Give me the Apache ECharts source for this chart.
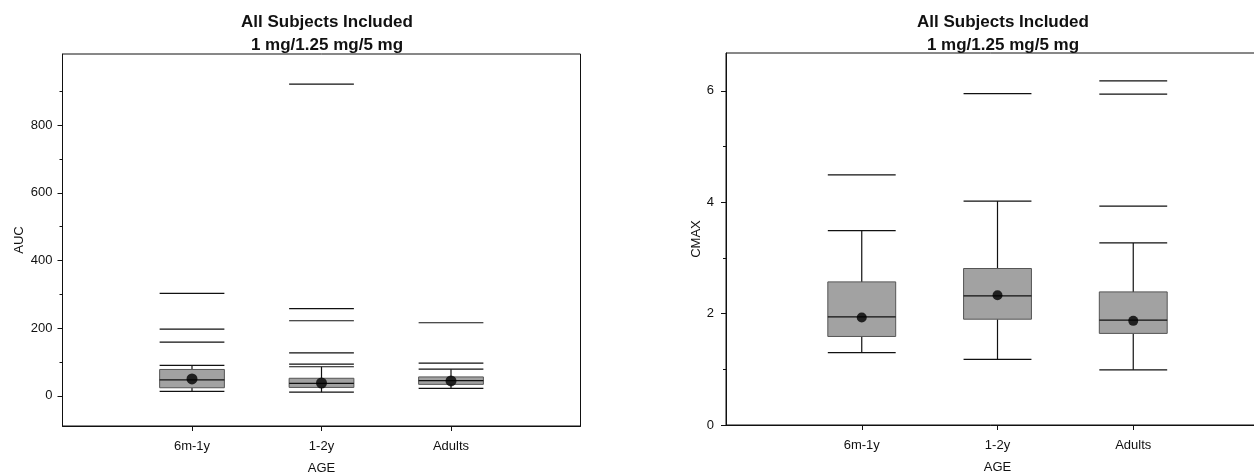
<!DOCTYPE html>
<html>
<head>
<meta charset="utf-8">
<script src="https://cdn.jsdelivr.net/npm/echarts@6/dist/echarts.min.js"></script>
<style>
  html, body { margin: 0; padding: 0; background: #fff; }
  #chart { width: 1254px; height: 472px; }
</style>
</head>
<body>
<div id="chart"></div>
<script>
// Age groups on the x axis
const categories = ['6m-1y', '1-2y', 'Adults'];

// AUC: [min, Q1, median, Q3, max] per age group, plus means and outliers
const aucBoxes = [
  [13, 24, 47, 78, 90],
  [11, 25, 37, 52, 86],
  [22, 34, 45, 56, 79]
];
const aucMeans = [50, 38, 44];
const aucOutliers = [
  [159, 197, 303],
  [94, 127, 222, 258, 921],
  [97, 216]
];
const aucTicks = [0, 200, 400, 600, 800];
const aucMinorTicks = [100, 300, 500, 700, 900];

// CMAX: [min, Q1, median, Q3, max] per age group, plus means and outliers
const cmaxBoxes = [
  [1.30, 1.59, 1.94, 2.57, 3.49],
  [1.18, 1.90, 2.32, 2.81, 4.02],
  [0.99, 1.645, 1.885, 2.39, 3.27]
];
const cmaxMeans = [1.93, 2.33, 1.87];
const cmaxOutliers = [
  [4.49],
  [5.95],
  [3.93, 5.94, 6.18]
];
const cmaxTicks = [0, 2, 4, 6];
const cmaxMinorTicks = [1, 3, 5];

const FONT = '"Liberation Sans", Arial, sans-serif';
const INK = '#111';
const BOX_FILL = '#a2a2a2';

// category i sits at x = i + 1 on a 0..4 scale
const catX = categories.map((_, i) => i + 1);

function halfWidth(api) {
  return (api.coord([2, 0])[0] - api.coord([1, 0])[0]) * 0.25;
}

function renderBox(params, api) {
  const x = api.value(0);
  const hw = halfWidth(api);
  const p = (v) => api.coord([x, v]);
  const cx = p(api.value(1))[0];
  const yMin = p(api.value(1))[1];
  const yQ1 = p(api.value(2))[1];
  const yMed = p(api.value(3))[1];
  const yQ3 = p(api.value(4))[1];
  const yMax = p(api.value(5))[1];
  const line = (x1, y1, x2, y2, w) => ({
    type: 'line',
    shape: { x1, y1, x2, y2 },
    style: { stroke: INK, lineWidth: w || 1.2 }
  });
  return {
    type: 'group',
    children: [
      line(cx, yQ3, cx, yMax),
      line(cx, yQ1, cx, yMin),
      line(cx - hw, yMax, cx + hw, yMax),
      line(cx - hw, yMin, cx + hw, yMin),
      {
        type: 'rect',
        shape: { x: cx - hw, y: yQ3, width: 2 * hw, height: yQ1 - yQ3 },
        style: { fill: BOX_FILL, stroke: '#555', lineWidth: 1 }
      },
      line(cx - hw, yMed, cx + hw, yMed, 1.2)
    ]
  };
}

function renderOutlier(params, api) {
  const hw = halfWidth(api);
  const pt = api.coord([api.value(0), api.value(1)]);
  return {
    type: 'line',
    shape: { x1: pt[0] - hw, y1: pt[1], x2: pt[0] + hw, y2: pt[1] },
    style: { stroke: INK, lineWidth: 1.2 }
  };
}

function boxData(boxes) {
  return boxes.map((b, i) => [catX[i]].concat(b));
}
function outlierData(outs) {
  const rows = [];
  outs.forEach((list, i) => list.forEach(v => rows.push([catX[i], v])));
  return rows;
}
function meanData(means) {
  return means.map((m, i) => [catX[i], m]);
}

function xAxisFor(gridIndex) {
  return {
    type: 'value', gridIndex, min: 0, max: 4, position: 'bottom',
    name: 'AGE', nameLocation: 'middle', nameGap: 36,
    nameTextStyle: { fontFamily: FONT, fontSize: 13, color: INK },
    axisLine: { show: true, onZero: false, lineStyle: { color: INK, width: 1 } },
    axisTick: { show: true, customValues: catX, length: 5, inside: false, lineStyle: { color: INK } },
    axisLabel: {
      customValues: catX, margin: 14,
      formatter: (v) => categories[Math.round(v) - 1] || '',
      fontFamily: FONT, fontSize: 13, color: INK
    },
    splitLine: { show: false }
  };
}

// a labelled axis for the major ticks and an unlabelled one for the minor ticks
function yAxesFor(gridIndex, name, min, max, ticks, minor, nameGap, labelMargin) {
  return [
    {
      type: 'value', gridIndex, min, max, name, position: 'left',
      nameLocation: 'middle', nameGap, nameRotate: 90,
      nameTextStyle: { fontFamily: FONT, fontSize: 13, color: INK },
      axisLine: { show: true, onZero: false, lineStyle: { color: INK, width: 1 } },
      axisTick: { show: true, customValues: ticks, length: 5, inside: false, lineStyle: { color: INK } },
      axisLabel: { customValues: ticks, margin: labelMargin, fontFamily: FONT, fontSize: 13, color: INK },
      splitLine: { show: false }
    },
    {
      type: 'value', gridIndex, min, max, position: 'left', offset: 0,
      axisLine: { show: false, onZero: false },
      axisTick: { show: true, customValues: minor, length: 3, inside: false, lineStyle: { color: INK } },
      axisLabel: { show: false },
      splitLine: { show: false }
    }
  ];
}

const titleStyle = { fontFamily: FONT, fontSize: 17, fontWeight: 'bold', color: INK, lineHeight: 18 };

const chart = echarts.init(document.getElementById('chart'), null, { renderer: 'canvas' });
chart.setOption({
  animation: false,
  backgroundColor: '#fff',
  title: [
    { text: 'All Subjects Included', left: 322, top: 8, textAlign: 'center', textStyle: titleStyle },
    { text: '1 mg/1.25 mg/5 mg', left: 322, top: 31, textAlign: 'center', textStyle: titleStyle },
    { text: 'All Subjects Included', left: 998, top: 8, textAlign: 'center', textStyle: titleStyle },
    { text: '1 mg/1.25 mg/5 mg', left: 998, top: 31, textAlign: 'center', textStyle: titleStyle }
  ],
  grid: [
    { left: 62.5, width: 518, top: 54, height: 372, outerBoundsMode: 'none', containLabel: false, show: true, borderColor: INK, borderWidth: 1, backgroundColor: 'transparent' },
    { left: 726, width: 543, top: 53, height: 372, outerBoundsMode: 'none', containLabel: false, show: true, borderColor: INK, borderWidth: 1, backgroundColor: 'transparent' }
  ],
  xAxis: [xAxisFor(0), xAxisFor(1)],
  yAxis: []
    .concat(yAxesFor(0, 'AUC', -89, 1010, aucTicks, aucMinorTicks, 37, 10))
    .concat(yAxesFor(1, 'CMAX', 0, 6.68, cmaxTicks, cmaxMinorTicks, 23, 12)),
  series: [
    { type: 'custom', xAxisIndex: 0, yAxisIndex: 0, renderItem: renderBox, data: boxData(aucBoxes), encode: { x: 0, y: [1, 2, 3, 4, 5] }, silent: true },
    { type: 'custom', xAxisIndex: 0, yAxisIndex: 0, renderItem: renderOutlier, data: outlierData(aucOutliers), encode: { x: 0, y: 1 }, silent: true },
    { type: 'scatter', xAxisIndex: 0, yAxisIndex: 0, data: meanData(aucMeans), symbol: 'circle', symbolSize: 11, itemStyle: { color: '#000' }, silent: true },
    { type: 'custom', xAxisIndex: 1, yAxisIndex: 2, renderItem: renderBox, data: boxData(cmaxBoxes), encode: { x: 0, y: [1, 2, 3, 4, 5] }, silent: true },
    { type: 'custom', xAxisIndex: 1, yAxisIndex: 2, renderItem: renderOutlier, data: outlierData(cmaxOutliers), encode: { x: 0, y: 1 }, silent: true },
    { type: 'scatter', xAxisIndex: 1, yAxisIndex: 2, data: meanData(cmaxMeans), symbol: 'circle', symbolSize: 10, itemStyle: { color: '#000' }, silent: true }
  ]
});
</script>
</body>
</html>
